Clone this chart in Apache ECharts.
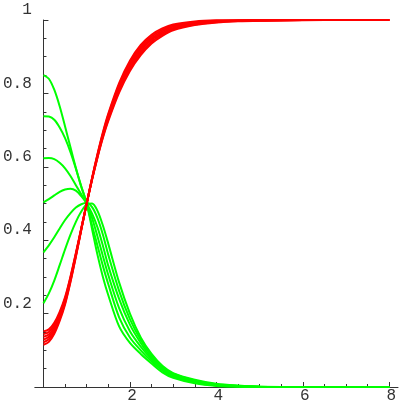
<!DOCTYPE html>
<html>
<head>
<meta charset="utf-8">
<script src="https://cdn.jsdelivr.net/npm/echarts@6/dist/echarts.min.js"></script>
<style>
  html, body { margin: 0; padding: 0; background: #fff; }
  #chart { width: 409px; height: 409px; }
</style>
</head>
<body>
<div id="chart"></div>
<script>
// sample points along x
var xs = [0, 0.125, 0.25, 0.375, 0.5, 0.625, 0.75, 0.875, 1, 1.125, 1.25, 1.375, 1.5, 1.75, 2, 2.25, 2.5, 2.75, 3, 3.5, 4, 4.5, 5, 6, 7, 8];

// red curves (rising)
var red1 = [0.115, 0.123, 0.145, 0.18, 0.225, 0.286, 0.355, 0.428, 0.5, 0.57, 0.635, 0.694, 0.745, 0.828, 0.889, 0.932, 0.96, 0.977, 0.988, 0.996, 0.999, 0.9995, 1, 1, 1, 1];
var red2 = [0.122, 0.13, 0.151, 0.185, 0.229, 0.289, 0.357, 0.429, 0.5, 0.569, 0.633, 0.691, 0.741, 0.823, 0.8835, 0.9265, 0.955, 0.973, 0.985, 0.994, 0.998, 0.999, 0.9996, 1, 1, 1];
var red3 = [0.129, 0.137, 0.157, 0.19, 0.233, 0.292, 0.359, 0.43, 0.5, 0.568, 0.631, 0.688, 0.737, 0.818, 0.878, 0.921, 0.95, 0.969, 0.982, 0.992, 0.997, 0.998, 0.999, 1, 1, 1];
var red4 = [0.137, 0.143, 0.163, 0.195, 0.237, 0.295, 0.361, 0.431, 0.5, 0.567, 0.629, 0.685, 0.733, 0.812, 0.872, 0.915, 0.946, 0.965, 0.978, 0.99, 0.995, 0.998, 0.999, 1, 1, 1];
var red5 = [0.144, 0.15, 0.169, 0.2, 0.241, 0.298, 0.363, 0.432, 0.5, 0.566, 0.627, 0.682, 0.729, 0.807, 0.8665, 0.9095, 0.941, 0.961, 0.975, 0.988, 0.994, 0.997, 0.998, 1, 1, 1];
var red6 = [0.1515, 0.157, 0.175, 0.205, 0.245, 0.301, 0.365, 0.433, 0.5, 0.565, 0.625, 0.679, 0.725, 0.802, 0.861, 0.904, 0.936, 0.957, 0.972, 0.986, 0.993, 0.9965, 0.998, 0.9995, 1, 1];

// green curves (decaying)
var green1 = [0.85, 0.84, 0.81, 0.765, 0.71, 0.653, 0.597, 0.545, 0.5, 0.43, 0.36, 0.3, 0.25, 0.165, 0.12, 0.09, 0.064, 0.04, 0.025, 0.01, 0.003, 0.001, 0, 0, 0, 0];
var green2 = [0.738, 0.737, 0.728, 0.707, 0.678, 0.64, 0.595, 0.547, 0.5, 0.44, 0.385, 0.33, 0.28, 0.19, 0.135, 0.1, 0.07, 0.045, 0.028, 0.012, 0.004, 0.0015, 0.0005, 0, 0, 0];
var green3 = [0.623, 0.624, 0.621, 0.611, 0.596, 0.575, 0.55, 0.525, 0.5, 0.46, 0.41, 0.357, 0.305, 0.215, 0.152, 0.11, 0.076, 0.049, 0.031, 0.014, 0.005, 0.002, 0.0005, 0, 0, 0];
var green4 = [0.503, 0.512, 0.522, 0.532, 0.538, 0.54, 0.535, 0.52, 0.5, 0.472, 0.435, 0.385, 0.33, 0.24, 0.17, 0.12, 0.08, 0.052, 0.034, 0.016, 0.006, 0.0025, 0.001, 0, 0, 0];
var green5 = [0.367, 0.386, 0.408, 0.432, 0.455, 0.474, 0.489, 0.498, 0.502, 0.49, 0.46, 0.415, 0.36, 0.262, 0.185, 0.128, 0.085, 0.055, 0.036, 0.018, 0.0075, 0.003, 0.001, 0, 0, 0];
var green6 = [0.228, 0.255, 0.29, 0.332, 0.375, 0.415, 0.45, 0.478, 0.498, 0.5, 0.48, 0.44, 0.39, 0.285, 0.2, 0.135, 0.09, 0.058, 0.038, 0.02, 0.009, 0.004, 0.001, 0, 0, 0];

// tick positions
var xMajor = [2, 4, 6, 8];
var xMinor = [0.5, 1, 1.5, 2.5, 3, 3.5, 4.5, 5, 5.5, 6.5, 7, 7.5];

var greens = [green1, green2, green3, green4, green5, green6];
var reds = [red1, red2, red3, red4, red5, red6];

function pairs(ys) {
  return xs.map(function (x, i) { return [x, ys[i]]; });
}

var series = [];
greens.forEach(function (g) {
  series.push({
    type: 'line', data: pairs(g), smooth: 0.3, symbol: 'none', clip: false,
    lineStyle: { color: '#00ff00', width: 2 }, z: 3
  });
});
reds.forEach(function (r) {
  series.push({
    type: 'line', data: pairs(r), smooth: 0.3, symbol: 'none', clip: false,
    lineStyle: { color: '#ff0000', width: 2 }, z: 4
  });
});

var chart = echarts.init(document.getElementById('chart'));
var labelFont = { fontFamily: 'Liberation Mono', fontSize: 16, color: '#333' };

var option = {
  animation: false,
  grid: { left: 30, right: 11, top: 20, bottom: 22 },
  xAxis: [
    {
      type: 'value', min: -0.2, max: 8.2,
      axisLine: { show: true, onZero: true, lineStyle: { color: '#333', width: 1 } },
      axisTick: { show: true, inside: true, length: 5, customValues: xMajor, lineStyle: { color: '#333' } },
      axisLabel: Object.assign({ show: true, margin: 1, customValues: xMajor, padding: [0, 0, 0, 4] }, labelFont),
      splitLine: { show: false }
    },
    {
      type: 'value', min: -0.2, max: 8.2, position: 'bottom',
      axisLine: { show: false },
      axisTick: { show: true, inside: true, length: 3, customValues: xMinor, lineStyle: { color: '#333' } },
      axisLabel: { show: false },
      splitLine: { show: false }
    }
  ],
  yAxis: {
    type: 'value', min: 0, max: 1, interval: 0.2,
    axisLine: { show: true, onZero: true, lineStyle: { color: '#333', width: 1 } },
    axisTick: { show: true, inside: true, length: 5, lineStyle: { color: '#333' } },
    minorTick: { show: true, splitNumber: 4, length: 3, lineStyle: { color: '#333' } },
    axisLabel: Object.assign({
      show: true, margin: 3, showMinLabel: false, align: 'right', verticalAlign: 'bottom',
      padding: [0, 0, 2, 0], alignMaxLabel: 'right',
      formatter: function (v) { return v === 1 ? '1' : v.toFixed(1); }
    }, labelFont),
    splitLine: { show: false }
  },
  series: series
};

chart.setOption(option);
</script>
</body>
</html>
